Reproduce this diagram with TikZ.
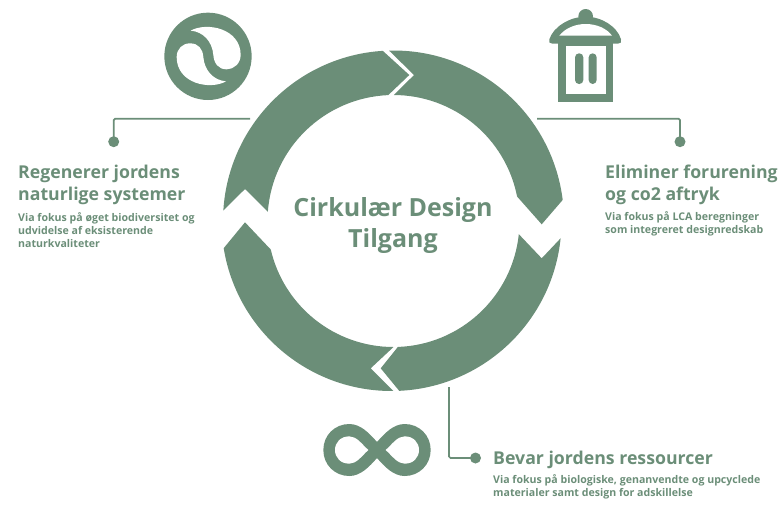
\documentclass[tikz,border=0pt]{standalone}
\usepackage{fontspec}
\setmainfont{Open Sans}
\definecolor{sage}{HTML}{6B8E78}
\tikzset{
  seg/.style={fill=sage,draw=none},
  lead/.style={draw=sage,line width=1.7pt,rounded corners=1.5pt},
  dot/.style={circle,fill=sage,draw=none,minimum size=11pt,inner sep=0pt},
  head/.style={text=sage,font=\bfseries\fontsize{17.7}{22}\selectfont,anchor=north west,align=left,inner sep=0pt},
  sub/.style={text=sage,font=\bfseries\fontsize{10.6}{13.3}\selectfont,anchor=north west,align=left,inner sep=0pt},
  title/.style={text=sage,font=\bfseries\fontsize{25}{31.5}\selectfont,align=center,inner sep=0pt}
}
\begin{document}
\begin{tikzpicture}[x=1pt,y=1pt,yscale=-1]
\useasboundingbox (0,0) rectangle (778,504);
\def\Ro{170.5}\def\Ri{126}\def\Rl{170}
\begin{scope}[shift={(393.5,221)}]
\coordinate (a1) at (183.5:\Ro);
\coordinate (b1) at (267.6:\Ri);
\coordinate (a2) at (268.5:\Ro);
\coordinate (b2) at (348.8:\Ri);
\coordinate (b3) at (88:\Ri);
\coordinate (b4) at (166.9:\Ri);
\end{scope}
\begin{scope}[shift={(391.5,221)}]
\coordinate (a3) at (5.84:\Rl);
\coordinate (a4) at (89.4:\Rl);
\end{scope}
% ring segments
\fill[seg] (a1) arc[start angle=183.5,end angle=266.4,radius=\Ro]
  -- (409.3,75) -- (b1) arc[start angle=267.6,end angle=184.2,radius=\Ri] -- (245,189) -- cycle;
\fill[seg] (a2) arc[start angle=268.5,end angle=352.9,radius=\Ro]
  -- (541.7,224.3) -- (b2) arc[start angle=348.8,end angle=270.2,radius=\Ri] -- (414,75) -- cycle;
\fill[seg] (a3) arc[start angle=5.84,end angle=87.4,radius=\Rl]
  -- (380.7,368.3) -- (b3) arc[start angle=88,end angle=6,radius=\Ri] -- (541.7,258.3) -- cycle;
\fill[seg] (a4) arc[start angle=89.4,end angle=170.8,radius=\Rl]
  -- (245,222.3) -- (b4) arc[start angle=166.9,end angle=90,radius=\Ri] -- (370.7,368.3) -- cycle;
% yin-yang icon
\begin{scope}[shift={(150,0)},scale=1/3]
  \fill[sage] (174,169) circle[radius=131];
  \fill[white] (122,92) .. controls (170,65) and (272,85) .. (272,165)
    .. controls (272,190) and (252,208) .. (230,208)
    .. controls (205,208) and (192,190) .. (190,165)
    .. controls (187,125) and (160,95) .. (122,92) -- cycle;
  \fill[white] (228,244) .. controls (180,271) and (80,251) .. (80,171)
    .. controls (80,146) and (98,130) .. (120,130)
    .. controls (145,130) and (158,146) .. (160,171)
    .. controls (163,211) and (190,241) .. (228,244) -- cycle;
\end{scope}
% bin icon
\begin{scope}[shift={(530,0)},scale=1/3]
  \fill[sage] (167,49) circle[radius=22];
  \fill[sage] (85,125) rectangle (250,305);
  \fill[white] (108,138) rectangle (228,283);
  \fill[sage,rounded corners=4pt] (135,160) rectangle (160,252);
  \fill[sage,rounded corners=4pt] (176,160) rectangle (200,252);
  \fill[sage] (58,118) .. controls (70,80) and (120,50) .. (167,50)
    .. controls (215,50) and (262,80) .. (273,118)
    .. controls (276,126) and (272,131) .. (264,131) -- (67,131)
    .. controls (59,131) and (55,126) .. (58,118) -- cycle;
  \fill[white] (88,107) .. controls (105,85) and (135,72) .. (167,72)
    .. controls (200,72) and (230,85) .. (246,107) -- cycle;
\end{scope}
% infinity icon
\begin{scope}[shift={(310,380)},scale=1/3]
  \fill[sage] (201,186) .. controls (178,160) and (152,132) .. (118,132)
    .. controls (75,132) and (40,165) .. (40,210)
    .. controls (40,255) and (75,288) .. (118,288)
    .. controls (152,288) and (178,260) .. (201,234)
    .. controls (224,260) and (250,288) .. (284,288)
    .. controls (327,288) and (362,255) .. (362,210)
    .. controls (362,165) and (327,132) .. (284,132)
    .. controls (250,132) and (224,160) .. (201,186) -- cycle;
  \fill[white] (175,210) .. controls (155,192) and (140,169) .. (118,169)
    .. controls (92,169) and (75,187) .. (75,210)
    .. controls (75,233) and (92,251) .. (118,251)
    .. controls (140,251) and (155,228) .. (175,210) -- cycle;
  \fill[white] (227,210) .. controls (247,192) and (262,169) .. (284,169)
    .. controls (310,169) and (327,187) .. (327,210)
    .. controls (327,233) and (310,251) .. (284,251)
    .. controls (262,251) and (247,228) .. (227,210) -- cycle;
\end{scope}
% connectors
\node[dot] (dl) at (113.7,141.7) {};
\node[dot] (dr) at (680,141.7) {};
\node[dot] (db) at (475.5,458) {};
\coordinate (al) at (250,118.7);
\coordinate (ar) at (537,118.7);
\coordinate (ab) at (449,387);
\draw[lead] (al) -| (dl.center);
\draw[lead] (ar) -| (dr.center);
\draw[lead] (ab) |- (db.center);
% texts
\node[title] (t) at (393,225.5) {Cirkulær Design\\Tilgang};
\node[head] (h1) at (18,165) {Regenerer jordens\\naturlige systemer};
\node[sub] (s1) at (18,212) {Via fokus på øget biodiversitet og\\udvidelse af eksisterende\\naturkvaliteter};
\node[head] (h2) at (605,165) {Eliminer forurening\\og co2 aftryk};
\node[sub] (s2) at (605,211.5) {Via fokus på LCA beregninger\\som integreret designredskab};
\node[head] (h3) at (493,451) {Bevar jordens ressourcer};
\node[sub] (s3) at (493,474) {Via fokus på biologiske, genanvendte og upcyclede\\materialer samt design for adskillelse};
\end{tikzpicture}
\end{document}
